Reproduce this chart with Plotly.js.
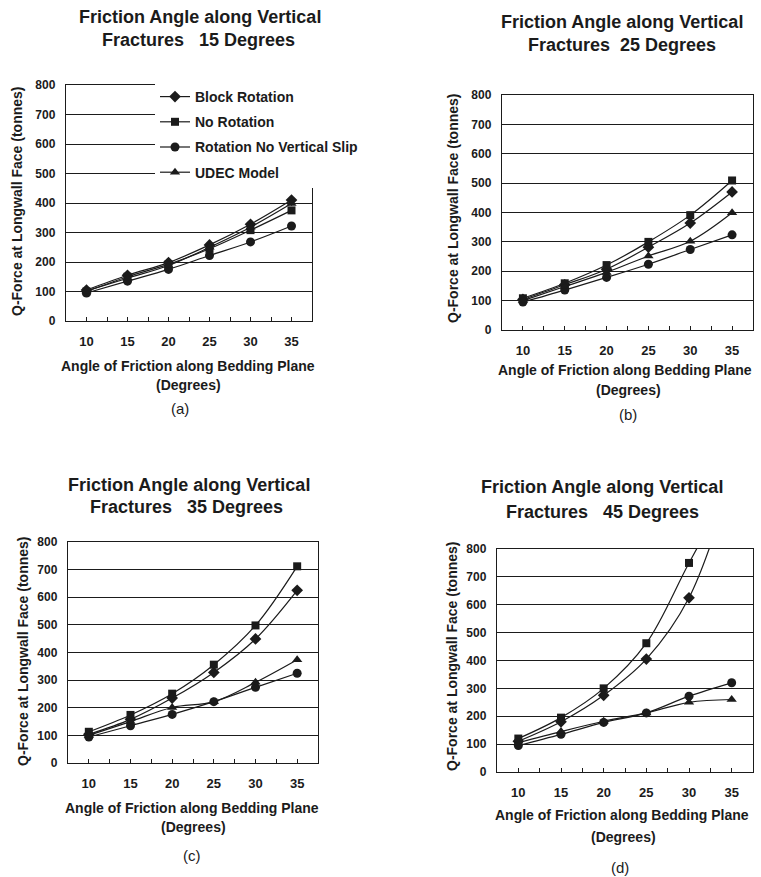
<!DOCTYPE html>
<html>
<head>
<meta charset="utf-8">
<script src="https://cdn.plot.ly/plotly-3.0.1.min.js"></script>
<style>html,body{margin:0;padding:0;background:#fff;}#chart{width:761px;height:877px;}</style>
</head>
<body>
<div id="chart"></div>
<script>
// ---- Data ----
const angles = [10, 15, 20, 25, 30, 35];
const seriesNames = ["Block Rotation", "No Rotation", "Rotation No Vertical Slip", "UDEC Model"];
const panelTitles = ["Fractures\u00a0\u00a0\u00a015 Degrees", "Fractures\u00a0\u00a025 Degrees", "Fractures\u00a0\u00a0\u00a035 Degrees", "Fractures\u00a0\u00a0\u00a045 Degrees"];
const panelLabels = ["(a)", "(b)", "(c)", "(d)"];

// Vertical fracture friction angle 15 degrees
const block15 = [105, 155, 198, 258, 328, 410];
const noRot15 = [100, 150, 192, 245, 308, 375];
const rnvs15  = [95, 135, 175, 222, 268, 322];
const udec15  = [102, 145, 188, 250, 318, 398];
// 25 degrees
const block25 = [104, 154, 207, 282, 364, 470];
const noRot25 = [108, 159, 221, 300, 391, 509];
const rnvs25  = [95, 136, 179, 224, 274, 324];
const udec25  = [100, 148, 196, 252, 302, 399];
// 35 degrees
const block35 = [104, 158, 235, 328, 449, 625];
const noRot35 = [113, 174, 251, 356, 498, 712];
const rnvs35  = [94, 135, 176, 222, 274, 325];
const udec35  = [100, 150, 201, 222, 292, 374];
// 45 degrees (last two values of the upper curves lie above the axis range)
const block45 = [110, 180, 275, 405, 625, 1050];
const noRot45 = [120, 195, 300, 462, 750, 1030];
const rnvs45  = [95, 135, 178, 212, 272, 320];
const udec45  = [105, 145, 182, 212, 250, 260];

const panels = [
  [block15, noRot15, rnvs15, udec15],
  [block25, noRot25, rnvs25, udec25],
  [block35, noRot35, rnvs35, udec35],
  [block45, noRot45, rnvs45, udec45]
];

// ---- Layout helpers ----
const W = 761, H = 877;
const fx = x => x / W;
const fy = y => 1 - y / H;
const INK = '#1b1b1b';
const FONT = '"Liberation Sans", Arial, sans-serif';

const symbols = ['diamond', 'square', 'circle', 'triangle-up'];
const msizes = [9, 8, 9, 9];

// plot boxes in pixels: [left, right, top, bottom]
const boxes = [
  [66, 312, 85, 321],
  [502, 753, 95, 330],
  [68, 318, 542, 763],
  [497, 753, 549, 772]
];

const traces = [];
panels.forEach((series, p) => {
  const sfx = p === 0 ? '' : String(p + 1);
  series.forEach((vals, s) => {
    traces.push({
      type: 'scatter', mode: 'lines+markers',
      x: angles, y: vals,
      xaxis: 'x' + sfx, yaxis: 'y' + sfx,
      name: seriesNames[s],
      legendgroup: 'g' + s,
      showlegend: p === 0,
      line: {color: INK, width: 1.2, shape: 'spline', smoothing: 1},
      marker: {symbol: symbols[s], size: msizes[s], color: INK},
      cliponaxis: true
    });
  });
});

const layout = {
  width: W, height: H,
  margin: {l: 0, r: 0, t: 0, b: 0},
  paper_bgcolor: '#ffffff', plot_bgcolor: '#ffffff',
  font: {family: FONT, color: INK},
  showlegend: true,
  legend: {
    x: fx(155), y: fy(81), xanchor: 'left', yanchor: 'top',
    bgcolor: '#ffffff', borderwidth: 0,
    font: {family: FONT, size: 14, weight: 'bold', color: INK},
    tracegroupgap: 4, traceorder: 'grouped'
  },
  annotations: [],
  shapes: []
};

const titleLine1 = [[200, 17], [622, 22], [189, 485], [602, 487]];
const titleLine2 = [[198, 40], [622, 45], [186, 507], [602, 512]];
const xTitle = [[188, 366], [625, 370], [192, 808], [622, 815]];
const xTitle2 = [[188, 385], [628, 390], [193, 827], [623, 837]];
const labelPos = [[180, 408], [628, 415], [192, 855], [620, 867]];
const yTitle = [[17, 202], [453, 209], [23, 652], [452, 657]];

boxes.forEach((b, p) => {
  const sfx = p === 0 ? '' : String(p + 1);
  layout['xaxis' + sfx] = {
    domain: [fx(b[0]), fx(b[1])], anchor: 'y' + sfx,
    range: [7.5, 37.5], tickmode: 'array', tickvals: angles,
    ticks: 'inside', ticklen: 4, tickcolor: INK, tickwidth: 1,
    minor: {tickmode: 'linear', tick0: 7.5, dtick: 2.5, ticks: 'inside', ticklen: 4, tickcolor: INK, showgrid: false},
    showgrid: false, zeroline: false,
    showline: true, linecolor: INK, linewidth: 1.2, mirror: true,
    tickfont: {family: FONT, size: 13, weight: 'bold', color: INK},
    ticklabelstandoff: 8, fixedrange: true
  };
  layout['yaxis' + sfx] = {
    domain: [fy(b[3]), fy(b[2])], anchor: 'x' + sfx,
    range: [0, 800], dtick: 100, tick0: 0,
    showgrid: true, gridcolor: INK, gridwidth: 1,
    zeroline: false, showline: true, linecolor: INK, linewidth: 1.2, mirror: true,
    ticks: '', tickfont: {family: FONT, size: 12, weight: 'bold', color: INK},
    ticklabelstandoff: 7, fixedrange: true
  };
  const ann = (xy, text, size, bold, extra) => Object.assign({
    xref: 'paper', yref: 'paper', x: fx(xy[0]), y: fy(xy[1]),
    xanchor: 'center', yanchor: 'middle', showarrow: false, text: text,
    font: {family: FONT, size: size, weight: bold ? 'bold' : 'normal', color: INK}
  }, extra || {});
  layout.annotations.push(ann(titleLine1[p], 'Friction Angle along Vertical', 18, true));
  layout.annotations.push(ann(titleLine2[p], panelTitles[p], 18, true));
  layout.annotations.push(ann(xTitle[p], 'Angle of Friction along Bedding Plane', 14, true));
  layout.annotations.push(ann(xTitle2[p], '(Degrees)', 14, true));
  layout.annotations.push(ann(labelPos[p], panelLabels[p], 15, false));
  layout.annotations.push(ann(yTitle[p], 'Q-Force at Longwall Face (tonnes)', 14, true, {textangle: -90}));
});

Plotly.newPlot('chart', traces, layout, {staticPlot: true, displayModeBar: false});
</script>
</body>
</html>
